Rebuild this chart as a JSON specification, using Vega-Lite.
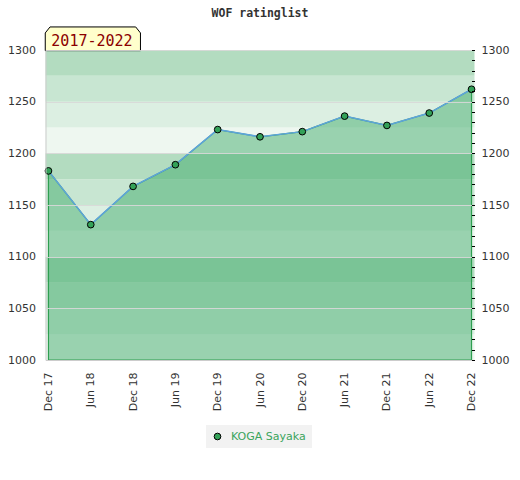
{
  "$schema": "https://vega.github.io/schema/vega-lite/v6.json",
  "autosize": {"type": "none"},
  "padding": {"left": 45.5, "top": 50, "right": 45.5, "bottom": 120},
  "width": 429,
  "height": 310,
  "background": "white",
  "title": {
    "text": "WOF ratinglist",
    "font": "DejaVu Sans Mono",
    "fontSize": 11.5,
    "fontWeight": "bold",
    "color": "#333333",
    "anchor": "middle",
    "offset": 5
  },
  "datasets": {
    "ratings": [
      {"date": "Dec 17", "rating": 1183, "player": "KOGA Sayaka"},
      {"date": "Jun 18", "rating": 1131, "player": "KOGA Sayaka"},
      {"date": "Dec 18", "rating": 1168, "player": "KOGA Sayaka"},
      {"date": "Jun 19", "rating": 1189, "player": "KOGA Sayaka"},
      {"date": "Dec 19", "rating": 1223, "player": "KOGA Sayaka"},
      {"date": "Jun 20", "rating": 1216, "player": "KOGA Sayaka"},
      {"date": "Dec 20", "rating": 1221, "player": "KOGA Sayaka"},
      {"date": "Jun 21", "rating": 1236, "player": "KOGA Sayaka"},
      {"date": "Dec 21", "rating": 1227, "player": "KOGA Sayaka"},
      {"date": "Jun 22", "rating": 1239, "player": "KOGA Sayaka"},
      {"date": "Dec 22", "rating": 1262, "player": "KOGA Sayaka"}
    ],
    "bands": [
      {"lo": 1000, "hi": 1025},
      {"lo": 1025, "hi": 1050},
      {"lo": 1050, "hi": 1075},
      {"lo": 1075, "hi": 1100},
      {"lo": 1100, "hi": 1125},
      {"lo": 1125, "hi": 1150},
      {"lo": 1150, "hi": 1175},
      {"lo": 1175, "hi": 1200},
      {"lo": 1200, "hi": 1225},
      {"lo": 1225, "hi": 1250},
      {"lo": 1250, "hi": 1275},
      {"lo": 1275, "hi": 1300}
    ],
    "badge": [{"date": "Dec 17", "label": "2017-2022"}]
  },
  "layer": [
    {
      "data": {"name": "bands"},
      "transform": [{"calculate": "(datum.lo % 100) / 25", "as": "tier"}],
      "mark": {"type": "rect"},
      "encoding": {
        "y": {
          "field": "lo",
          "type": "quantitative",
          "scale": {"domain": [1000, 1300], "nice": false, "zero": false},
          "axis": {
            "orient": "left",
            "title": null,
            "format": "d",
            "values": [1000, 1050, 1100, 1150, 1200, 1250, 1300],
            "ticks": false,
            "labelPadding": 10,
            "domainColor": "#cccccc",
            "grid": true,
            "gridColor": "#d8d8d8",
            "gridOpacity": 0.9,
            "zindex": 1
          }
        },
        "y2": {"field": "hi"},
        "fill": {
          "field": "tier",
          "type": "ordinal",
          "scale": {"domain": [0, 1, 2, 3], "range": ["#eef7f0", "#dcefe2", "#c8e6d2", "#b3dcc0"]},
          "legend": null
        }
      }
    },
    {
      "data": {"name": "ratings"},
      "mark": {
        "type": "area",
        "fill": "#3da968",
        "fillOpacity": 0.48,
        "stroke": "#2e9e50",
        "strokeWidth": 1.2
      },
      "encoding": {
        "x": {
          "field": "date",
          "type": "ordinal",
          "sort": null,
          "scale": {"type": "point", "padding": 0.07},
          "axis": {
            "title": null,
            "labelAngle": -90,
            "ticks": false,
            "labelPadding": 12,
            "domainColor": "#cccccc",
            "zindex": 1
          }
        },
        "y": {
          "field": "rating",
          "type": "quantitative",
          "axis": {
            "orient": "right",
            "title": null,
            "format": "d",
            "values": [1000, 1010, 1020, 1030, 1040, 1050, 1060, 1070, 1080, 1090, 1100, 1110, 1120, 1130, 1140, 1150, 1160, 1170, 1180, 1190, 1200, 1210, 1220, 1230, 1240, 1250, 1260, 1270, 1280, 1290, 1300],
            "labelExpr": "datum.value % 50 === 0 ? datum.label : ''",
            "domain": false,
            "grid": false,
            "tickColor": "#000000",
            "tickSize": 3,
            "offset": -3,
            "labelPadding": 6.5,
            "zindex": 1
          }
        },
        "y2": {"datum": 1000}
      }
    },
    {
      "data": {"name": "ratings"},
      "mark": {"type": "line", "color": "#5ea3dc", "strokeWidth": 1.5},
      "encoding": {
        "x": {"field": "date", "type": "ordinal", "sort": null},
        "y": {"field": "rating", "type": "quantitative", "axis": null}
      }
    },
    {
      "data": {"name": "ratings"},
      "mark": {
        "type": "point",
        "filled": true,
        "size": 45,
        "stroke": "#000000",
        "strokeWidth": 1,
        "opacity": 1
      },
      "encoding": {
        "x": {"field": "date", "type": "ordinal", "sort": null},
        "y": {"field": "rating", "type": "quantitative", "axis": null},
        "color": {
          "field": "player",
          "type": "nominal",
          "scale": {"range": ["#33a158"]},
          "legend": {
            "title": null,
            "orient": "none",
            "legendX": 160.5,
            "legendY": 375,
            "fillColor": "#f2f2f2",
            "padding": 6,
            "symbolType": "circle",
            "symbolSize": 45,
            "symbolStrokeColor": "#000000",
            "symbolStrokeWidth": 1,
            "labelFont": "DejaVu Sans",
            "labelFontSize": 11,
            "labelColor": "#3aa45c",
            "labelOffset": 8
          }
        }
      }
    },
    {
      "data": {"name": "badge"},
      "mark": {
        "type": "point",
        "shape": "M-1,0.249 L-1,-0.123 L-0.9,-0.249 L0.9,-0.249 L1,-0.123 L1,0.249 Z",
        "size": 9063,
        "filled": true,
        "fill": "#ffffcc",
        "stroke": "#000000",
        "strokeWidth": 1,
        "opacity": 1,
        "xOffset": 44.4,
        "yOffset": -11.2
      },
      "encoding": {
        "x": {"field": "date", "type": "ordinal", "sort": null},
        "y": {"datum": 1300, "type": "quantitative", "axis": null}
      }
    },
    {
      "data": {"name": "badge"},
      "mark": {
        "type": "text",
        "font": "DejaVu Sans Mono",
        "fontSize": 15,
        "color": "#8b0000",
        "align": "center",
        "baseline": "alphabetic",
        "dx": 43.5,
        "dy": -4.3
      },
      "encoding": {
        "x": {"field": "date", "type": "ordinal", "sort": null},
        "y": {"datum": 1300, "type": "quantitative", "axis": null},
        "text": {"field": "label"}
      }
    }
  ],
  "resolve": {"axis": {"y": "independent"}},
  "config": {
    "view": {"stroke": null},
    "axis": {"labelFont": "DejaVu Sans", "labelFontSize": 11, "labelColor": "#333333"}
  }
}
